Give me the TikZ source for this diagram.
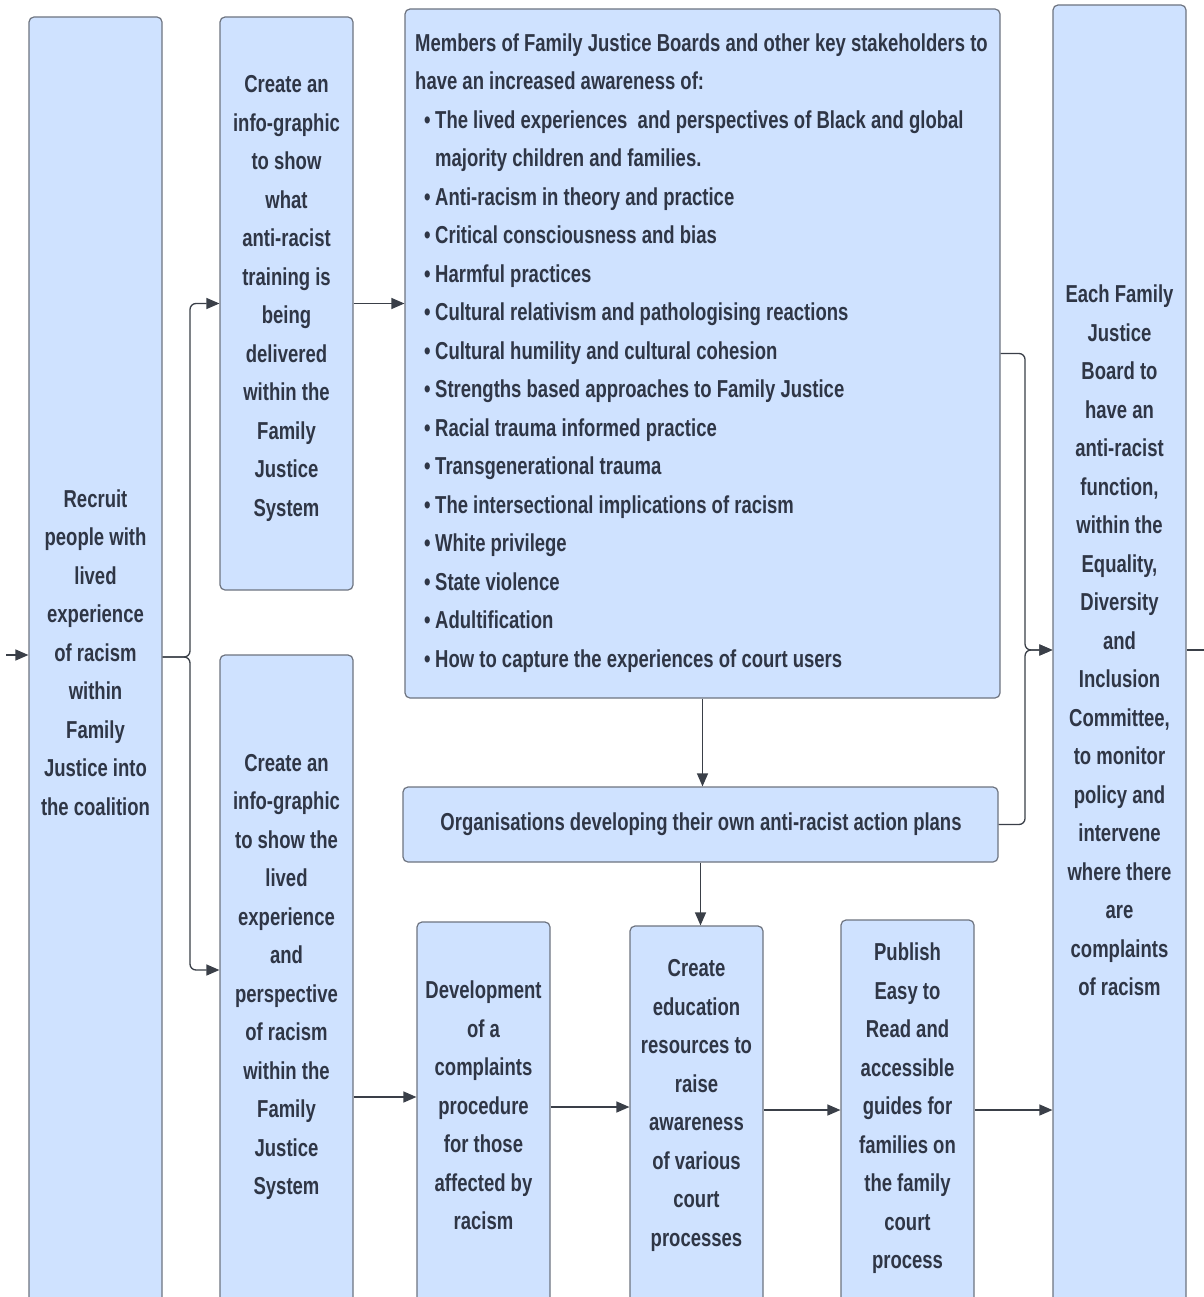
\documentclass[tikz,border=0pt]{standalone}
\usepackage{fontspec}
\newfontfamily\boxfont[FakeStretch=0.755]{Liberation Sans Bold}
\usetikzlibrary{arrows.meta}
\definecolor{boxfill}{HTML}{CFE2FF}
\definecolor{boxline}{HTML}{6E7480}
\definecolor{txt}{HTML}{2F3646}
\definecolor{wirec}{HTML}{3A3F48}
\newcommand{\bul}{\makebox[20pt][r]{\textbullet\hspace{4.5pt}}}
\begin{document}
\begin{tikzpicture}[x=1pt,y=-1pt,
  box/.style={draw=boxline, line width=1.2pt, fill=boxfill, rounded corners=5pt, inner sep=0pt},
  lbl/.style={text=txt, font=\boxfont\fontsize{24.5}{38.5}\selectfont, align=center, inner sep=0pt},
  lbll/.style={text=txt, font=\boxfont\fontsize{24.5}{38.5}\selectfont, align=left, inner sep=0pt},
  arr/.style={draw=wirec, line width=1.3pt, -{Triangle[length=13pt,width=11pt]}, rounded corners=6pt},
  plain/.style={draw=wirec, line width=1.3pt, rounded corners=6pt}]
\useasboundingbox (0,0) rectangle (1203,1297);
\fill[white] (0,0) rectangle (1203,1297);
% boxes
\node[box, minimum width=133pt, minimum height=1285pt] (b1) at (95.5,659.5) {};
\node[box, minimum width=133pt, minimum height=573pt] (b2) at (286.5,303.5) {};
\node[box, minimum width=595pt, minimum height=689pt] (b3) at (702.5,353.5) {};
\node[box, minimum width=133pt, minimum height=647pt] (b4) at (286.5,978.5) {};
\node[box, minimum width=595pt, minimum height=75pt] (b5) at (700.5,824.5) {};
\node[box, minimum width=133pt, minimum height=380pt] (b6) at (483.5,1112) {};
\node[box, minimum width=133pt, minimum height=376pt] (b7) at (696.5,1114) {};
\node[box, minimum width=133pt, minimum height=382pt] (b8) at (907.5,1111) {};
\node[box, minimum width=133pt, minimum height=1297pt] (b9) at (1119.5,653.5) {};
% texts
\node[lbl] (t1) at (95.5,652.5) {Recruit\\people with\\lived\\experience\\of racism\\within\\Family\\Justice into\\the coalition};
\node[lbl] (t2) at (286.5,298.5) {Create an\\info-graphic\\to show\\what\\anti-racist\\training is\\being\\delivered\\within the\\Family\\Justice\\System};
\node[lbll, anchor=west] (t3) at (415,353) {Members of Family Justice Boards and other key stakeholders to\\
have an increased awareness of:\\
\bul The lived experiences\ \ and perspectives of Black and global\\
\hspace*{20pt}majority children and families.\\
\bul Anti-racism in theory and practice\\
\bul Critical consciousness and bias\\
\bul Harmful practices\\
\bul Cultural relativism and pathologising reactions\\
\bul Cultural humility and cultural cohesion\\
\bul Strengths based approaches to Family Justice\\
\bul Racial trauma informed practice\\
\bul Transgenerational trauma\\
\bul The intersectional implications of racism\\
\bul White privilege\\
\bul State violence\\
\bul Adultification\\
\bul How to capture the experiences of court users};
\node[lbl] (t4) at (286.5,977) {Create an\\info-graphic\\to show the\\lived\\experience\\and\\perspective\\of racism\\within the\\Family\\Justice\\System};
\node[lbl] (t5) at (701,824) {Organisations developing their own anti-racist action plans};
\node[lbl] (t6) at (483.5,1105.5) {Development\\of a\\complaints\\procedure\\for those\\affected by\\racism};
\node[lbl] (t7) at (696.5,1105.5) {Create\\education\\resources to\\raise\\awareness\\of various\\court\\processes};
\node[lbl] (t8) at (907.5,1108.5) {Publish\\Easy to\\Read and\\accessible\\guides for\\families on\\the family\\court\\process};
\node[lbl] (t9) at (1119.5,640.5) {Each Family\\Justice\\Board to\\have an\\anti-racist\\function,\\within the\\Equality,\\Diversity\\and\\Inclusion\\Committee,\\to monitor\\policy and\\intervene\\where there\\are\\complaints\\of racism};
% connectors
\coordinate (in) at (6,655);
\coordinate (out) at (1210,650);
\draw[arr] (in) -- (in -| b1.west);
\draw[arr] (b1.east |- 0,657) -- (190,657) |- (b2.west);
\draw[arr] (b1.east |- 0,657) -- (190,657) |- (b4.west |- 0,970);
\draw[arr] (b2.east) -- (b2.east -| b3.west);
\draw[arr] (b3.south) -- (b3.south |- b5.north);
\draw[arr] (b5.south) -- (b5.south |- b7.north);
\draw[arr] (b3.east) -- (1025,353.5) |- (b9.west |- 0,650);
\draw[arr] (b5.east) -- (1025,824.5) |- (b9.west |- 0,650);
\draw[arr] (b4.east |- 0,1097) -- (b6.west |- 0,1097);
\draw[arr] (b6.east |- 0,1107) -- (b7.west |- 0,1107);
\draw[arr] (b7.east |- 0,1110) -- (b8.west |- 0,1110);
\draw[arr] (b8.east |- 0,1110) -- (b9.west |- 0,1110);
\draw[plain] (b9.east |- 0,650) -- (out);
\end{tikzpicture}
\end{document}
